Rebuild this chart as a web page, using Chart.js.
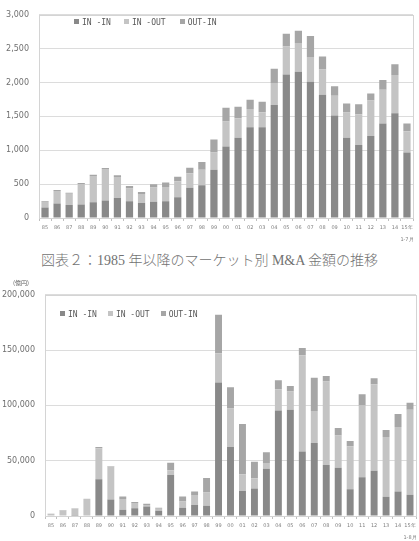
<!DOCTYPE html>
<html>
<head>
<meta charset="utf-8">
<script src="https://cdn.jsdelivr.net/npm/chart.js@4.4.0/dist/chart.umd.min.js"></script>
<style>
  html, body { margin:0; padding:0; background:#fff; width:419px; height:541px; overflow:hidden; }
  .abs { position:absolute; }
  #c1wrap { left:0; top:0; width:419px; height:246px; }
  #c2wrap { left:0; top:280px; width:419px; height:261px; }
  .legend { font-family:"DejaVu Sans Mono","Liberation Mono",monospace; font-size:8px; color:#595959; white-space:nowrap; line-height:10px; }
  .sw { display:inline-block; width:5px; height:5px; vertical-align:middle; margin-right:3px; position:relative; top:-1px; }
  #caption { left:0; width:419px; top:249px; text-align:center; font-family:"Liberation Serif","Noto Sans CJK JP",serif; font-size:14px; font-weight:300; color:#727272; }
  #unit { left:13px; top:278px; font-family:"Noto Sans CJK JP",sans-serif; font-size:6px; color:#595959; }
</style>
</head>
<body>
<div id="c1wrap" class="abs"><canvas id="c1" width="419" height="246"></canvas></div>
<div id="c2wrap" class="abs"><canvas id="c2" width="419" height="261"></canvas></div>
<div id="caption" class="abs">図表２：1985 年以降のマーケット別 M&amp;A 金額の推移</div>
<div id="unit" class="abs">(億円)</div>
<div id="leg1" class="abs legend" style="left:74px; top:18px;"></div>
<div id="leg2" class="abs legend" style="left:60px; top:310px;"></div>
<script>
// ---- data ----
const seriesNames = ["IN -IN", "IN -OUT", "OUT-IN"];
const categoriesTop = ["85","86","87","88","89","90","91","92","93","94","95","96","97","98","99","00","01","02","03","04","05","06","07","08","09","10","11","12","13","14",["15年","1-7月"]];
const categoriesBottom = ["85","86","87","88","89","90","91","92","93","94","95","96","97","98","99","00","01","02","03","04","05","06","07","08","09","10","11","12","13","14",["15年","1-8月"]];

// Chart 1: counts (件数)
const top_inIn  = [155,215,192,201,234,258,295,248,220,239,248,305,445,483,713,1055,1186,1341,1341,1669,2119,2161,2011,1819,1514,1186,1078,1210,1397,1547,966];
const top_inOut = [80,183,165,300,385,465,310,188,136,211,211,239,216,230,253,370,286,267,220,324,413,422,366,375,291,370,455,525,497,563,314];
const top_outIn = [13,15,15,15,18,17,25,37,28,47,66,66,80,112,192,202,169,136,155,210,187,183,309,192,141,136,145,103,145,159,117];
const topTicks = [0,500,1000,1500,2000,2500,3000];

// Chart 2: amounts (億円)
const bot_inIn  = [500,500,300,500,33200,15000,5700,6900,8700,4800,37100,7500,9900,9300,120600,62500,22700,24800,42800,95500,96100,58300,66100,46100,43700,24200,35000,41000,17400,22100,19200];
const bot_inOut = [1400,4700,6400,15000,28100,30000,9600,4800,1200,1800,4200,5700,9000,11900,26600,34700,15000,9300,5100,19100,16400,87100,28800,75400,29000,38900,64900,78100,54100,58400,76900];
const bot_outIn = [200,200,200,100,1200,200,2400,900,1200,900,6900,4500,3200,13200,34700,19200,45500,15000,9800,8100,5100,6600,30200,5100,6900,4800,10200,5400,6300,11700,6200];
const botTicks = [0,50000,100000,150000,200000];

const colors = ["#898989", "#c4c4c4", "#a6a6a6"];

function buildLegend(id, gaps) {
  const el = document.getElementById(id);
  el.innerHTML = seriesNames.map((n,i) =>
    `<span style="margin-right:${gaps[i]}px"><span class="sw" style="background:${colors[i]}"></span>${n}</span>`).join("");
}
buildLegend("leg1", [13, 14, 0]);
buildLegend("leg2", [11, 11, 0]);

const boxPlugin = {
  id: "plotBox",
  afterDraw(chart) {
    const a = chart.chartArea, ctx = chart.ctx;
    ctx.save();
    ctx.strokeStyle = "#d4d4d4";
    ctx.lineWidth = 1;
    ctx.strokeRect(Math.round(a.left)+0.5, Math.round(a.top)+0.5, Math.round(a.right-a.left), Math.round(a.bottom-a.top));
    ctx.restore();
  }
};

function makeChart(id, cats, d1, d2, d3, ticks, max, opts) {
  return new Chart(document.getElementById(id), {
    type: "bar",
    data: {
      labels: cats,
      datasets: [
        { label: seriesNames[0], data: d1, backgroundColor: colors[0] },
        { label: seriesNames[1], data: d2, backgroundColor: colors[1] },
        { label: seriesNames[2], data: d3, backgroundColor: colors[2] }
      ]
    },
    options: {
      responsive: false,
      animation: false,
      devicePixelRatio: 1,
      layout: { padding: opts.padding },
      plugins: { legend: { display: false }, tooltip: { enabled: false } },
      datasets: { bar: { categoryPercentage: 1.0, barPercentage: opts.barPct } },
      scales: {
        x: {
          stacked: true,
          offset: true,
          grid: { display: true, drawOnChartArea: false, offset: true, tickLength: 3, color: "#bfbfbf" },
          border: { display: false },
          ticks: { color: "#7f7f7f", font: { family: "DejaVu Sans", size: 5, lineHeight: 2.4 }, padding: 1, maxRotation: 0, minRotation: 0, autoSkip: false },
          afterFit: s => { s.height = opts.xh; }
        },
        y: {
          stacked: true,
          min: 0, max: max,
          afterBuildTicks: s => { s.ticks = ticks.map(v => ({ value: v })); },
          grid: { color: "#dcdcdc", drawTicks: false },
          border: { display: false },
          ticks: { color: "#6f6f6f", font: { family: "DejaVu Sans", size: 8 }, padding: 10,
                   callback: v => v.toLocaleString("en-US") },
          afterFit: s => { s.width = opts.yw; }
        }
      }
    },
    plugins: [boxPlugin]
  });
}

makeChart("c1", categoriesTop, top_inIn, top_inOut, top_outIn, topTicks, 3000,
  { padding: { top: 5, right: 6, left: 0, bottom: 0 }, yw: 39, xh: 28, barPct: 0.6 });
makeChart("c2", categoriesBottom, bot_inIn, bot_inOut, bot_outIn, botTicks, 200000,
  { padding: { top: 13, right: 3, left: 0, bottom: 0 }, yw: 45, xh: 25, barPct: 0.58 });
</script>
</body>
</html>
